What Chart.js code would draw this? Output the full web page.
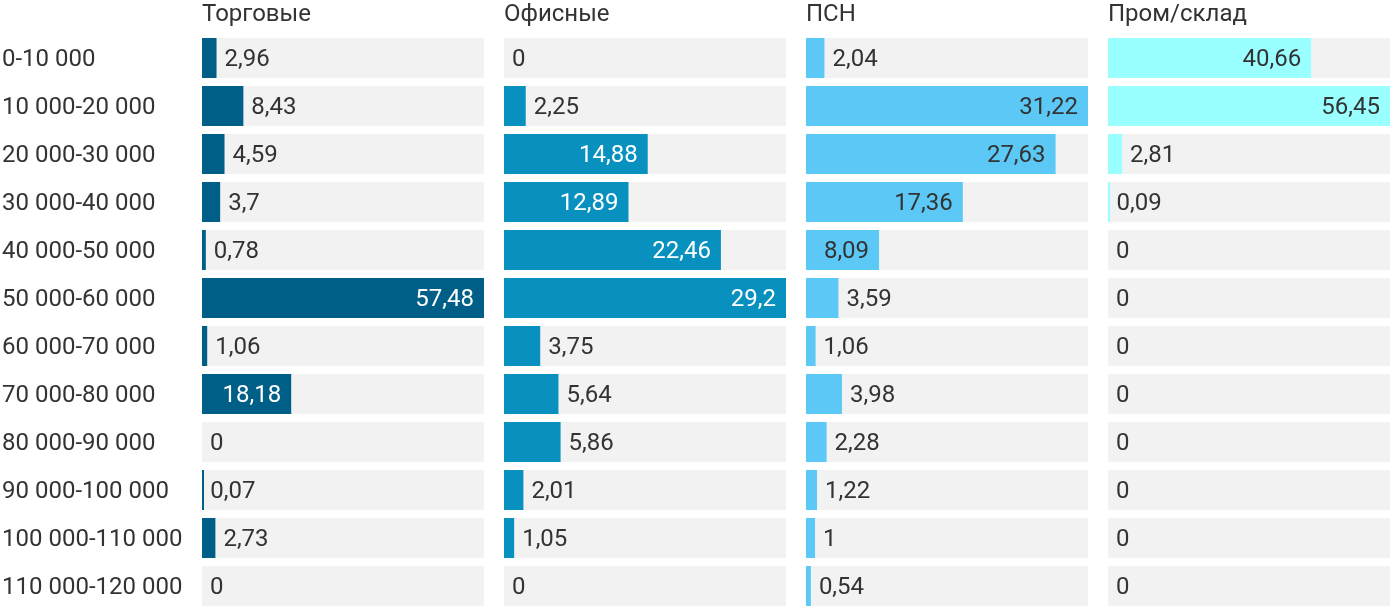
<!DOCTYPE html>
<html>
<head>
<meta charset="utf-8">
<script src="https://cdn.jsdelivr.net/npm/chart.js@4"></script>
<style>
  html, body { margin:0; padding:0; background:#fff; overflow:hidden; }
  #wrap { position:relative; width:1400px; height:610px; }
  .panel { position:absolute; top:0; height:610px; }
</style>
</head>
<body>
<div id="wrap">
  <div class="panel" style="left:0;width:484px"><canvas id="c1"></canvas></div>
  <div class="panel" style="left:504px;width:282px"><canvas id="c2"></canvas></div>
  <div class="panel" style="left:806px;width:282px"><canvas id="c3"></canvas></div>
  <div class="panel" style="left:1108px;width:282px"><canvas id="c4"></canvas></div>
</div>
<script>
  // Диапазоны ставок
  const categories = ['0-10 000','10 000-20 000','20 000-30 000','30 000-40 000','40 000-50 000','50 000-60 000',
    '60 000-70 000','70 000-80 000','80 000-90 000','90 000-100 000','100 000-110 000','110 000-120 000'];

  const torgovye = [2.96, 8.43, 4.59, 3.7, 0.78, 57.48, 1.06, 18.18, 0, 0.07, 2.73, 0];
  const ofisnye  = [0, 2.25, 14.88, 12.89, 22.46, 29.2, 3.75, 5.64, 5.86, 2.01, 1.05, 0];
  const psn      = [2.04, 31.22, 27.63, 17.36, 8.09, 3.59, 1.06, 3.98, 2.28, 1.22, 1, 0.54];
  const promsklad = [40.66, 56.45, 2.81, 0.09, 0, 0, 0, 0, 0, 0, 0, 0];

  const FONT = 'Roboto, "Noto Sans", sans-serif';
  const FS = 24;
  const fmt = v => String(v).replace('.', ',');

  const titlePlugin = {
    id: 'panelTitle',
    afterDraw(chart) {
      const ctx = chart.ctx;
      ctx.save();
      ctx.font = FS + 'px ' + FONT;
      ctx.fillStyle = '#333';
      ctx.textAlign = 'left';
      ctx.textBaseline = 'middle';
      ctx.fillText(chart.options.plugins.panelTitle.text, chart.chartArea.left, 15);
      ctx.restore();
    }
  };

  const valuePlugin = {
    id: 'valueLabels',
    afterDatasetsDraw(chart) {
      const opts = chart.options.plugins.valueLabels;
      const vals = opts.values;
      const xs = chart.scales.x, ys = chart.scales.y;
      const ctx = chart.ctx;
      ctx.save();
      ctx.font = FS + 'px ' + FONT;
      ctx.textBaseline = 'middle';
      const base = xs.getPixelForValue(0);
      vals.forEach((v, i) => {
        const x = xs.getPixelForValue(v);
        const y = ys.getPixelForValue(i) + 2;
        const t = fmt(v);
        const tw = ctx.measureText(t).width;
        if (tw + 20 <= x - base) {
          ctx.fillStyle = opts.inside;
          ctx.textAlign = 'right';
          ctx.fillText(t, x - 10, y);
        } else {
          ctx.fillStyle = '#333';
          ctx.textAlign = 'left';
          ctx.fillText(t, x + 8, y);
        }
      });
      ctx.restore();
    }
  };

  function makeChart(id, title, values, color, insideColor, showAxis) {
    const max = Math.max(...values);
    return new Chart(document.getElementById(id), {
      type: 'bar',
      data: {
        labels: categories,
        datasets: [
          { data: values.map(v => v === 0 ? null : v), backgroundColor: color, order: 1,
            minBarLength: 2, grouped: false, categoryPercentage: 40/48, barPercentage: 1, borderWidth: 0 },
          { data: values.map(() => max), backgroundColor: '#f2f2f2', order: 2,
            grouped: false, categoryPercentage: 40/48, barPercentage: 1, borderWidth: 0 }
        ]
      },
      options: {
        indexAxis: 'y',
        responsive: true,
        maintainAspectRatio: false,
        animation: false,
        layout: { padding: { top: 34, left: showAxis ? 2 : 0, right: 0, bottom: 0 } },
        plugins: {
          legend: { display: false },
          tooltip: { enabled: false },
          panelTitle: { text: title },
          valueLabels: { values: values, inside: insideColor }
        },
        scales: {
          x: { display: false, min: 0, max: max },
          y: {
            display: showAxis,
            grid: { display: false },
            border: { display: false },
            ticks: { color: '#333', font: { family: FONT, size: FS }, crossAlign: 'far', padding: 0, labelOffset: 2 },
            afterFit: s => {
              if (!showAxis) return;
              s.width = 200;
              s.paddingTop = 0;
              s.paddingBottom = 0;
            }
          }
        }
      },
      plugins: [titlePlugin, valuePlugin]
    });
  }

  makeChart('c1', 'Торговые', torgovye, '#005f87', '#fff', true);
  makeChart('c2', 'Офисные', ofisnye, '#0891bf', '#fff', false);
  makeChart('c3', 'ПСН', psn, '#5bc8f5', '#333', false);
  makeChart('c4', 'Пром/склад', promsklad, '#99ffff', '#333', false);
</script>
</body>
</html>
